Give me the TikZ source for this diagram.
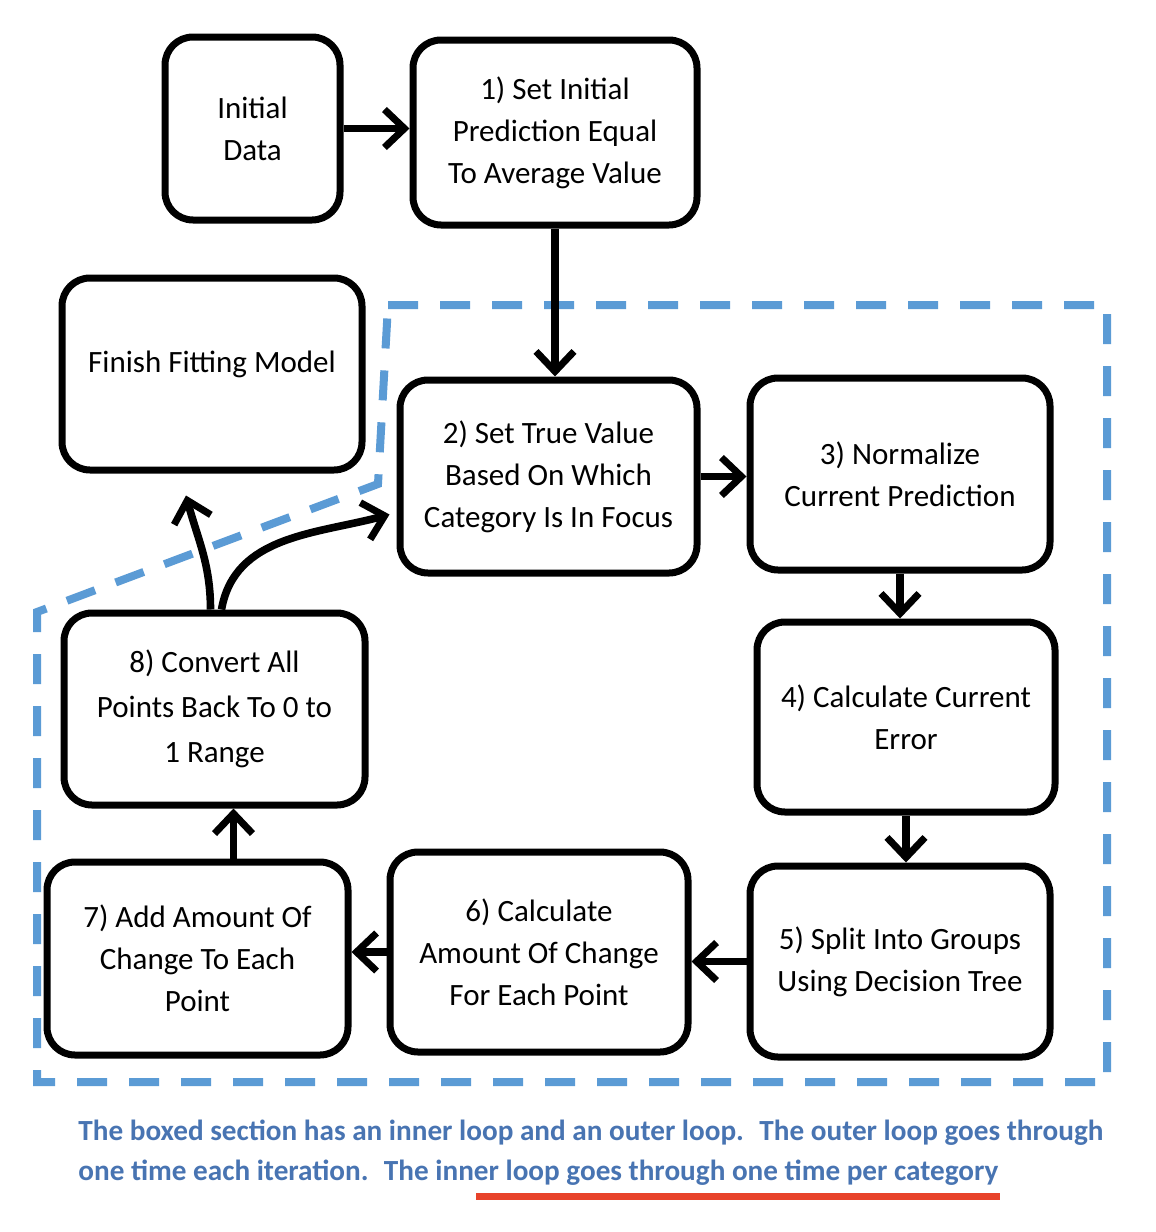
\documentclass[tikz,border=0pt]{standalone}
\usepackage{fontspec}
\setmainfont{Carlito}
\usetikzlibrary{arrows.meta}

\definecolor{loopblue}{RGB}{91,155,213}
\definecolor{notetext}{RGB}{72,116,178}
\definecolor{markred}{RGB}{232,67,42}

\begin{document}
\begin{tikzpicture}[x=0.5pt, y=-0.5pt,
    stepbox/.style={draw, line width=3.5pt, rounded corners=14pt, align=center,
        inner sep=0pt, font=\fontsize{15.5}{21}\selectfont},
    flow/.style={-{Straight Barb[length=10pt, width=19pt, line width=3.5pt]}, line width=3.8pt}]
    \useasboundingbox [fill=white] (0,0) rectangle (1156,1232);

    % the steps
    \node [stepbox, minimum width=87.5pt, minimum height=91.5pt] (init) at (252.5,128.5) {Initial\\Data};
    \node [stepbox, minimum width=142pt, minimum height=92.5pt] (start) at (555,132.5) {1) Set Initial\\Prediction Equal\\To Average Value};
    \node [stepbox, minimum width=150pt, minimum height=96pt, text depth=12pt] (finish) at (212,374) {Finish Fitting Model};
    \node [stepbox, minimum width=148.5pt, minimum height=96.5pt] (truth) at (548.5,476.5) {2) Set True Value\\Based On Which\\Category Is In Focus};
    \node [stepbox, minimum width=150pt, minimum height=96pt] (norm) at (900,474) {3) Normalize\\Current Prediction};
    \node [stepbox, minimum width=149pt, minimum height=95pt] (err) at (906,717) {4) Calculate Current\\Error};
    \node [stepbox, minimum width=150pt, minimum height=95.5pt] (split) at (900,961.5) {5) Split Into Groups\\Using Decision Tree};
    \node [stepbox, minimum width=149pt, minimum height=100pt] (change) at (539,952) {6) Calculate\\Amount Of Change\\For Each Point};
    \node [stepbox, minimum width=150.5pt, minimum height=96.5pt] (add) at (197.5,958.5) {7) Add Amount Of\\Change To Each\\Point};
    \node [stepbox, minimum width=150.5pt, minimum height=96pt, font=\fontsize{15.5}{22.5}\selectfont] (conv) at (214.5,709) {8) Convert All\\Points Back To 0 to\\1 Range};

    % boxed section
    \draw [loopblue, line width=4pt, dash pattern=on 15pt off 11pt]
        (388,305) -- (1107,305) -- (1107,1082) -- (37,1082) -- (37,612) -- (378,484) -- cycle;

    % connectors
    \draw [flow] (init.east) -- (init.east -| start.west);
    \draw [flow] (start.south) -- (start.south |- truth.north);
    \draw [flow] (truth.east) -- (truth.east -| norm.west);
    \draw [flow] (norm.south) -- (norm.south |- err.north);
    \draw [flow] (err.south) -- (err.south |- split.north);
    \draw [flow] (split.west) -- (split.west -| change.east);
    \draw [flow] (change.west) -- (change.west -| add.east);
    \draw [flow] ([xshift=18pt]add.north) -- ([xshift=18pt]add.north |- conv.south);
    \draw [flow] ([xshift=-2pt]conv.north) to [out=90, in=-75] ([xshift=-13pt, yshift=-11pt]finish.south);
    \draw [flow] ([xshift=3.5pt]conv.north) to [out=80, in=195] ([xshift=-3.5pt, yshift=-19pt]truth.west);

    % note under the box
    \node [anchor=north west, align=left, text=notetext, inner sep=0pt,
        font=\fontsize{14.6}{20}\bfseries\selectfont] (note) at (78,1120)
        {The boxed section has an inner loop and an outer loop.~ The outer loop goes through\\
         one time each iteration.~ The inner loop goes through one time per category};
    \draw [markred, line width=3.5pt] (476,1196) -- (1000,1196);
\end{tikzpicture}
\end{document}
